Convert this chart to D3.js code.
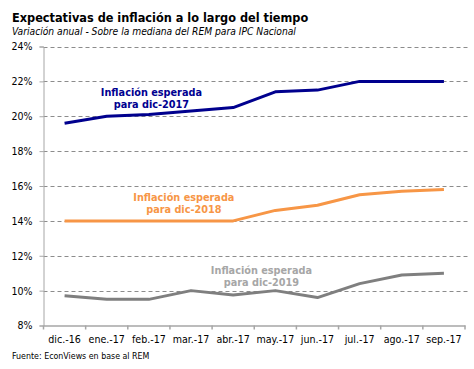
<html>
    <head>
        <script type="text/javascript" src="https://cdn.jsdelivr.net/npm/d3@7"></script>
        <style type="text/css">
            body { margin: 0; background: #fff; }
            text { font-family: "DejaVu Sans Condensed", "DejaVu Sans", sans-serif; }
        </style>
    </head>
    <body>
        <div id='chartholder'></div>

        <script type="text/javascript">

            var months = ['dic.-16', 'ene.-17', 'feb.-17', 'mar.-17', 'abr.-17', 'may.-17', 'jun.-17', 'jul.-17', 'ago.-17', 'sep.-17'];
            var exp2017 = [19.6, 20.0, 20.1, 20.3, 20.5, 21.4, 21.5, 22.0, 22.0, 22.0];
            var exp2018 = [14.0, 14.0, 14.0, 14.0, 14.0, 14.6, 14.9, 15.5, 15.7, 15.8];
            var exp2019 = [9.7, 9.5, 9.5, 10.0, 9.75, 10.0, 9.6, 10.4, 10.9, 11.0];
            var yTicks = [8, 10, 12, 14, 16, 18, 20, 22, 24];

            // lx: label centre in band units, ly: first baseline in % units
            var series = [
                {values: exp2017, color: '#00008e', labelColor: '#000090', label: ['Inflación esperada', 'para dic-2017'], lx: 2.06, ly: 21.15},
                {values: exp2018, color: '#f79646', labelColor: '#f79646', label: ['Inflación esperada', 'para dic-2018'], lx: 2.83, ly: 15.13},
                {values: exp2019, color: '#7f7f7f', labelColor: '#a6a6a6', label: ['Inflación esperada', 'para dic-2019'], lx: 4.67, ly: 10.93}
            ];

            var width = 474, height = 369;
            var chartLeft = 43.5, chartRight = 465, chartTop = 46.5, chartBottom = 325.5;

            var svg = d3.select('#chartholder')
                .append('svg')
                    .attr('width', width)
                    .attr('height', height);

            var xScale = d3.scaleBand()
                .domain(months)
                .range([chartLeft, chartRight]);

            var yScale = d3.scaleLinear()
                .domain([8, 24])
                .range([chartBottom, chartTop]);

            // title
            svg.append('text')
                .attr('x', 12).attr('y', 22)
                .style('font-size', '12.6px').style('font-weight', 'bold')
                .style('fill', '#000')
                .text('Expectativas de inflación a lo largo del tiempo');

            svg.append('text')
                .attr('x', 12).attr('y', 35)
                .style('font-size', '10.2px').style('font-style', 'italic')
                .style('fill', '#000')
                .text('Variación anual - Sobre la mediana del REM para IPC Nacional');

            // gridlines
            svg.append('g')
                .selectAll('line')
                .data(yTicks.filter(function(d) { return d > 8; }))
                .enter().append('line')
                    .attr('x1', chartLeft).attr('x2', 470)
                    .attr('y1', function(d) { return Math.round(yScale(d)) + 0.5; })
                    .attr('y2', function(d) { return Math.round(yScale(d)) + 0.5; })
                    .style('stroke', '#8c8c8c')
                    .style('stroke-dasharray', '4,3');

            var yAxis = svg.append('g')
                .attr('transform', 'translate(' + chartLeft + ',0)')
                .call(d3.axisLeft(yScale).tickValues(yTicks).tickSize(4).tickPadding(7)
                    .tickFormat(function(d) { return d + '%'; }));
            yAxis.select('.domain').style('stroke', '#a6a6a6');
            yAxis.selectAll('.tick line').style('stroke', '#a6a6a6');
            yAxis.selectAll('.tick text')
                .style('font-size', '10.5px').style('fill', '#000')
                .style('font-family', '"DejaVu Sans Condensed", sans-serif');

            var xAxis = svg.append('g')
                .attr('transform', 'translate(0,' + chartBottom + ')')
                .call(d3.axisBottom(xScale).tickSizeOuter(0).tickSize(0).tickPadding(10));
            xAxis.select('.domain').style('stroke', '#a6a6a6').style('stroke-width', 1.5);
            xAxis.selectAll('.tick text')
                .style('font-size', '10.6px').style('fill', '#000')
                .style('font-family', '"DejaVu Sans Condensed", sans-serif');

            // tick marks at band edges
            var edges = months.map(function(m) { return xScale(m); }).concat([chartRight]);
            svg.append('g')
                .selectAll('line')
                .data(edges)
                .enter().append('line')
                    .attr('x1', function(d) { return d; }).attr('x2', function(d) { return d; })
                    .attr('y1', chartBottom).attr('y2', chartBottom + 4)
                    .style('stroke', '#a6a6a6').style('stroke-width', 1.5);

            var line = d3.line()
                .x(function(d, i) { return xScale(months[i]) + xScale.bandwidth() / 2; })
                .y(function(d) { return yScale(d); });

            svg.append('g')
                .selectAll('path')
                .data(series)
                .enter().append('path')
                    .attr('d', function(d) { return line(d.values); })
                    .style('fill', 'none')
                    .style('stroke', function(d) { return d.color; })
                    .style('stroke-width', 3)
                    .style('stroke-linejoin', 'round');

            // series labels, two lines each
            series.forEach(function(s) {
                var cx = xScale(months[0]) + xScale.bandwidth() * (s.lx + 0.5);
                svg.append('g')
                    .selectAll('text')
                    .data(s.label)
                    .enter().append('text')
                        .attr('x', cx)
                        .attr('y', function(d, i) { return yScale(s.ly) + i * 11.4; })
                        .attr('text-anchor', 'middle')
                        .style('font-size', '10.8px').style('font-weight', 'bold')
                        .style('fill', s.labelColor)
                        .text(function(d) { return d; });
            });

            svg.append('text')
                .attr('x', 12).attr('y', 359)
                .style('font-size', '8.8px').style('fill', '#000')
                .text('Fuente: EconViews  en base al REM');

        </script>
    </body>
</html>
